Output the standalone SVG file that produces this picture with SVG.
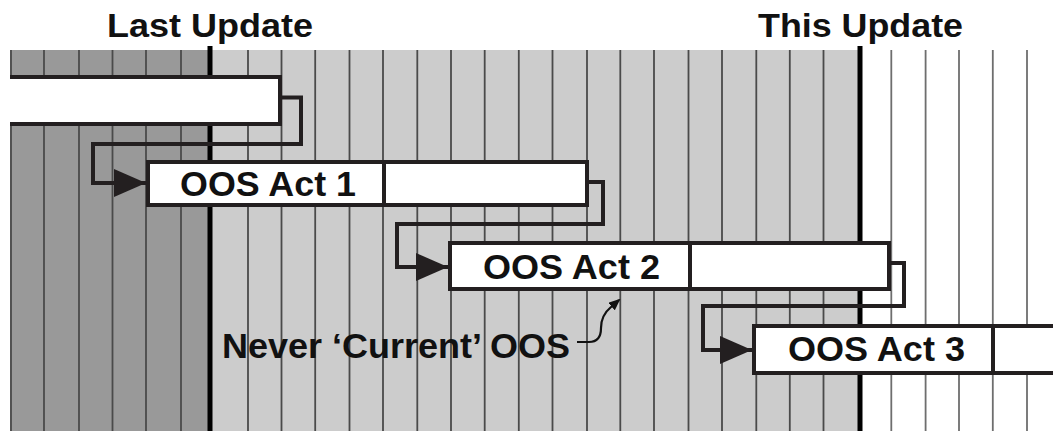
<svg xmlns="http://www.w3.org/2000/svg" width="1053" height="431" viewBox="0 0 1053 431">
  <defs>
    <style>
      .grid { stroke: #4a4a4a; stroke-width: 1.8; }
      .gridw { stroke: #6e6e6e; stroke-width: 1.8; }
      .thick { stroke: #000000; stroke-width: 5; }
      .bar { fill: #ffffff; stroke: #231f20; stroke-width: 4; }
      .conn { fill: none; stroke: #231f20; stroke-width: 4; }
      .txt { font-family: "Liberation Sans", Arial, sans-serif; font-weight: bold; fill: #111111; }
    </style>
    <marker id="arrow" markerUnits="userSpaceOnUse" markerWidth="32" markerHeight="28" refX="32" refY="14" orient="auto" viewBox="0 0 32 28">
      <path d="M0,0 L32,14 L0,28 Z" fill="#231f20"/>
    </marker>
    <marker id="arrowSmall" markerUnits="userSpaceOnUse" markerWidth="12" markerHeight="10" refX="10" refY="5" orient="auto" viewBox="0 0 12 10">
      <path d="M0,0 L12,5 L0,10 Z" fill="#111111"/>
    </marker>
  </defs>

  <rect width="1053" height="431" fill="#ffffff"/>

  <g id="background">
    <rect x="10" y="50" width="200" height="381" fill="#999999"/>
    <rect x="210" y="50" width="650" height="381" fill="#cccccc"/>
  </g>

  <g id="grid">
    <line class="grid" x1="11" y1="50" x2="11" y2="431"/>
    <line class="grid" x1="44" y1="50" x2="44" y2="431"/>
    <line class="grid" x1="79" y1="50" x2="79" y2="431"/>
    <line class="grid" x1="112.5" y1="50" x2="112.5" y2="431"/>
    <line class="grid" x1="146" y1="50" x2="146" y2="431"/>
    <line class="grid" x1="181" y1="50" x2="181" y2="431"/>
    <line class="grid" x1="248" y1="50" x2="248" y2="431"/>
    <line class="grid" x1="281.5" y1="50" x2="281.5" y2="431"/>
    <line class="grid" x1="315.2" y1="50" x2="315.2" y2="431"/>
    <line class="grid" x1="349.5" y1="50" x2="349.5" y2="431"/>
    <line class="grid" x1="383" y1="50" x2="383" y2="431"/>
    <line class="grid" x1="417.3" y1="50" x2="417.3" y2="431"/>
    <line class="grid" x1="451" y1="50" x2="451" y2="431"/>
    <line class="grid" x1="484.7" y1="50" x2="484.7" y2="431"/>
    <line class="grid" x1="518.8" y1="50" x2="518.8" y2="431"/>
    <line class="grid" x1="552.5" y1="50" x2="552.5" y2="431"/>
    <line class="grid" x1="587" y1="50" x2="587" y2="431"/>
    <line class="grid" x1="620.3" y1="50" x2="620.3" y2="431"/>
    <line class="grid" x1="654" y1="50" x2="654" y2="431"/>
    <line class="grid" x1="688.5" y1="50" x2="688.5" y2="431"/>
    <line class="grid" x1="722" y1="50" x2="722" y2="431"/>
    <line class="grid" x1="756.3" y1="50" x2="756.3" y2="431"/>
    <line class="grid" x1="789.8" y1="50" x2="789.8" y2="431"/>
    <line class="grid" x1="823.5" y1="50" x2="823.5" y2="431"/>
    <line class="gridw" x1="891.3" y1="50" x2="891.3" y2="431"/>
    <line class="gridw" x1="925.6" y1="50" x2="925.6" y2="431"/>
    <line class="gridw" x1="959" y1="50" x2="959" y2="431"/>
    <line class="gridw" x1="992.8" y1="50" x2="992.8" y2="431"/>
    <line class="gridw" x1="1027" y1="50" x2="1027" y2="431"/>
    <line class="thick" x1="210" y1="46" x2="210" y2="431"/>
    <line class="thick" x1="860" y1="46" x2="860" y2="431"/>
  </g>

  <g id="label-last-update">
    <text class="txt" x="107" y="37" font-size="34" textLength="206" lengthAdjust="spacingAndGlyphs">Last Update</text>
  </g>
  <g id="label-this-update">
    <text class="txt" x="758" y="37" font-size="34" textLength="205" lengthAdjust="spacingAndGlyphs">This Update</text>
  </g>

  <g id="connectors">
    <path class="conn" d="M280,97.5 H301 V144 H93 V183 H146" marker-end="url(#arrow)"/>
    <path class="conn" d="M587,182 H603 V224 H397 V267 H448" marker-end="url(#arrow)"/>
    <path class="conn" d="M889,263 H904 V306 H703 V350 H752" marker-end="url(#arrow)"/>
    <path fill="none" stroke="#111111" stroke-width="2.2" d="M577,342 L589,342 C598,342 601,336 601,328 C601,318 605,312 611,307 L619,300" marker-end="url(#arrowSmall)"/>
  </g>

  <g id="bar-previous">
    <rect x="10" y="77" width="270" height="47" fill="#ffffff"/>
    <path d="M10,77 H280 V124 H10" fill="none" stroke="#231f20" stroke-width="4"/>
  </g>

  <g id="oos-act-1">
    <rect class="bar" x="148" y="162" width="439" height="43"/>
    <line x1="384" y1="162" x2="384" y2="205" stroke="#231f20" stroke-width="4"/>
    <text class="txt" x="180" y="196" font-size="35" textLength="176" lengthAdjust="spacingAndGlyphs">OOS Act 1</text>
  </g>

  <g id="oos-act-2">
    <rect class="bar" x="450" y="243" width="439" height="46"/>
    <line x1="690" y1="243" x2="690" y2="289" stroke="#231f20" stroke-width="4"/>
    <text class="txt" x="483" y="279" font-size="35" textLength="177" lengthAdjust="spacingAndGlyphs">OOS Act 2</text>
  </g>

  <g id="oos-act-3">
    <rect class="bar" x="754" y="326" width="310" height="47"/>
    <line x1="993" y1="326" x2="993" y2="373" stroke="#231f20" stroke-width="4"/>
    <text class="txt" x="788" y="361" font-size="35" textLength="177" lengthAdjust="spacingAndGlyphs">OOS Act 3</text>
  </g>

  <g id="note-never-current">
    <text class="txt" x="222" y="358" font-size="35" textLength="348" lengthAdjust="spacingAndGlyphs">Never ‘Current’ OOS</text>
  </g>
</svg>
